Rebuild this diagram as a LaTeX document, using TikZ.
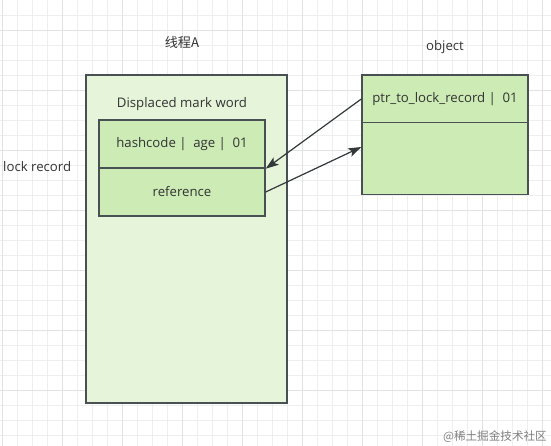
\documentclass[tikz,border=0pt]{standalone}
\usepackage{fontspec}
\setmainfont{Open Sans}
\newfontfamily\cjk{Noto Sans CJK SC}
\usepackage{tikz}
\usetikzlibrary{arrows.meta,
                positioning
            }
\definecolor{gridthin}{RGB}{238,238,238}
\definecolor{gridthick}{RGB}{226,226,226}
\definecolor{boxline}{RGB}{73,80,84}
\definecolor{outerfill}{RGB}{230,245,218}
\definecolor{innerfill}{RGB}{205,236,181}
\definecolor{textgray}{RGB}{51,51,51}

\begin{document}
\begin{tikzpicture}[x=1pt, y=-1pt,
        every node/.style={font=\fontsize{13.2}{15}\selectfont, text=textgray},
        outerbox/.style={draw=boxline, fill=outerfill, line width=1.4pt, minimum width=201pt, minimum height=328pt},
        field/.style={draw=boxline, fill=innerfill, line width=1.4pt, minimum width=166pt, minimum height=48pt, inner sep=0pt},
        link/.style={draw=boxline!70!black, line width=1.2pt, -{Stealth[length=13pt, width=9pt, inset=3pt]}}
    ]
            \useasboundingbox (0,0) rectangle (551,446);
            % grid
            \foreach \x in {2,17,...,550} \draw[gridthin, line width=0.8pt] (\x,0) -- (\x,446);
            \foreach \y in {15,30,...,445} \draw[gridthin, line width=0.8pt] (0,\y) -- (551,\y);
            \foreach \x in {2,62,...,550} \draw[gridthick, line width=0.8pt] (\x,0) -- (\x,446);
            \foreach \y in {30,90,...,445} \draw[gridthick, line width=0.8pt] (0,\y) -- (551,\y);

            \node[outerbox] (thread) at (186.5, 239) {};
            \node (threadname) at (182, 42) {\cjk 线程A};
            \node (displaced) at (182, 104) {Displaced mark word};
            \node[field] (hash) at (182, 144) {hashcode |\enspace age |\enspace 01};
            \node[field] (ref) at (182, 192) {reference};
            \node[anchor=west, inner sep=0pt] (lockrec) at (3, 167) {lock record};

            \node (objname) at (445, 47) {object};
            \node[field] (ptr) at (445, 99) {ptr\_to\_lock\_record |\enspace 01};
            \node[field, minimum height=71.5pt] (objbody) at (445, 158.5) {};

            \draw[link] (ptr.west) -- (hash.south east);
            \draw[link] (ref.east) -- ([yshift=11.5pt]objbody.west);

            \node[anchor=east, inner sep=0pt, text=gray, font=\cjk\fontsize{11.6}{13}\selectfont] (mark) at (547, 437) {@稀土掘金技术社区};
        \end{tikzpicture}
\end{document}
